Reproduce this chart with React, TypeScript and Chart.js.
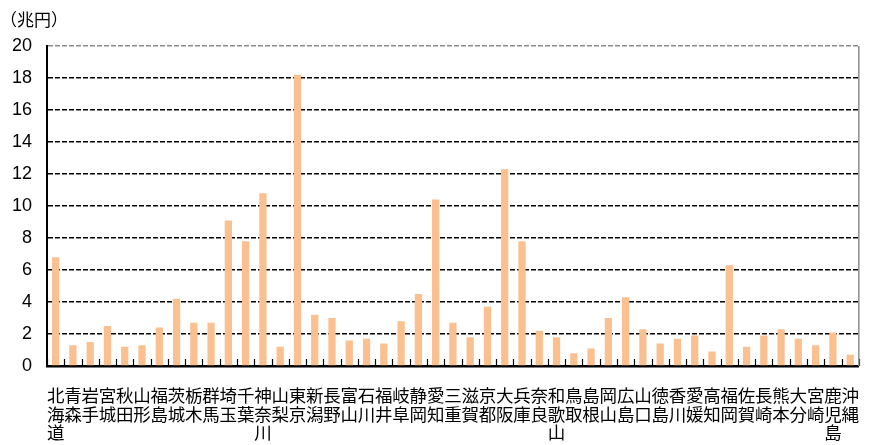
import React, { useEffect, useRef } from "react";
import { Chart, registerables } from "chart.js";

Chart.register(...registerables);

// 都道府県別の金額（兆円）
const prefectures: string[] = [
  "北海道", "青森", "岩手", "宮城", "秋田", "山形", "福島", "茨城", "栃木", "群馬",
  "埼玉", "千葉", "神奈川", "山梨", "東京", "新潟", "長野", "富山", "石川", "福井",
  "岐阜", "静岡", "愛知", "三重", "滋賀", "京都", "大阪", "兵庫", "奈良", "和歌山",
  "鳥取", "島根", "岡山", "広島", "山口", "徳島", "香川", "愛媛", "高知", "福岡",
  "佐賀", "長崎", "熊本", "大分", "宮崎", "鹿児島", "沖縄",
];

const amounts: number[] = [
  6.8, 1.3, 1.5, 2.5, 1.2, 1.3, 2.4, 4.2, 2.7, 2.7,
  9.1, 7.8, 10.8, 1.2, 18.2, 3.2, 3.0, 1.6, 1.7, 1.4,
  2.8, 4.5, 10.4, 2.7, 1.8, 3.7, 12.3, 7.8, 2.2, 1.8,
  0.8, 1.1, 3.0, 4.3, 2.3, 1.4, 1.7, 1.9, 0.9, 6.3,
  1.2, 1.9, 2.3, 1.7, 1.3, 2.1, 0.7,
];

const yTicks: number[] = [0, 2, 4, 6, 8, 10, 12, 14, 16, 18, 20];
const unitLabel = "（兆円）";

const JP_FONT = '"Noto Sans CJK JP", "Noto Sans", sans-serif';
const NUM_FONT = '"Liberation Sans", Arial, sans-serif';

// Unit caption, inward category ticks and the right frame line
const decorations = {
  id: "decorations",
  afterDatasetsDraw(chart: any) {
    const { ctx, chartArea } = chart;
    const x = chart.scales.x;
    ctx.save();
    // small ticks on the category boundaries, pointing up into the plot
    ctx.strokeStyle = "#000";
    ctx.lineWidth = 1.2;
    const n = x.ticks.length;
    for (let i = 0; i <= n; i++) {
      const px = Math.round(chartArea.left + (i * (chartArea.right - chartArea.left)) / n) + 0.5;
      ctx.beginPath();
      ctx.moveTo(px, chartArea.bottom);
      ctx.lineTo(px, chartArea.bottom - 7);
      ctx.stroke();
    }
    // right frame line
    ctx.strokeStyle = "#8c8c8c";
    ctx.lineWidth = 1.5;
    ctx.beginPath();
    ctx.moveTo(chartArea.right, chartArea.top);
    ctx.lineTo(chartArea.right, chartArea.bottom);
    ctx.stroke();
    // unit caption
    ctx.fillStyle = "#000";
    ctx.font = `17px ${JP_FONT}`;
    ctx.textAlign = "left";
    ctx.textBaseline = "middle";
    ctx.fillText(unitLabel, 0, 20);
    ctx.restore();
  },
};

export default function App() {
  const canvasRef = useRef<HTMLCanvasElement | null>(null);

  useEffect(() => {
    if (!canvasRef.current) return;
    const chart = new Chart(canvasRef.current, {
      type: "bar",
      data: {
        labels: prefectures.map((p) => Array.from(p)),
        datasets: [
          {
            data: amounts,
            backgroundColor: "rgb(250,192,144)",
            borderWidth: 0,
            barPercentage: 0.42,
            categoryPercentage: 1,
          },
        ],
      },
      options: {
        animation: false,
        responsive: false,
        maintainAspectRatio: false,
        layout: { padding: { top: 46, right: 6, left: 0, bottom: 0 } },
        plugins: {
          legend: { display: false },
          tooltip: { enabled: false },
        },
        scales: {
          x: {
            grid: { display: false, drawTicks: false },
            border: { display: true, color: "#000", width: 2.5 },
            ticks: {
              autoSkip: false,
              maxRotation: 0,
              minRotation: 0,
              padding: 20,
              color: "#000",
              font: { family: JP_FONT, size: 17.5, lineHeight: 1.07 },
            },
            afterFit(scale: any) {
              scale.height = 79;
            },
          },
          y: {
            min: 0,
            max: 20,
            afterBuildTicks(scale: any) {
              scale.ticks = yTicks.map((v) => ({ value: v }));
            },
            grid: {
              drawTicks: false,
              lineWidth: 1.5,
              color: (ctx: any) =>
                ctx.tick && ctx.tick.value === 20 ? "#8c8c8c" : ctx.tick && ctx.tick.value === 0 ? "rgba(0,0,0,0)" : "#000",
            },
            border: { display: true, color: "#000", width: 2, dash: [5, 2] },
            ticks: {
              padding: 15,
              color: "#000",
              font: { family: NUM_FONT, size: 18 },
            },
            afterFit(scale: any) {
              scale.width = 47;
            },
          },
        },
      },
      plugins: [decorations],
    });
    return () => chart.destroy();
  }, []);

  return (
    <div style={{ position: "fixed", left: 0, top: 0, width: 879, height: 445, background: "#fff" }}>
      <canvas ref={canvasRef} width={879} height={445} style={{ width: 879, height: 445 }} />
    </div>
  );
}
